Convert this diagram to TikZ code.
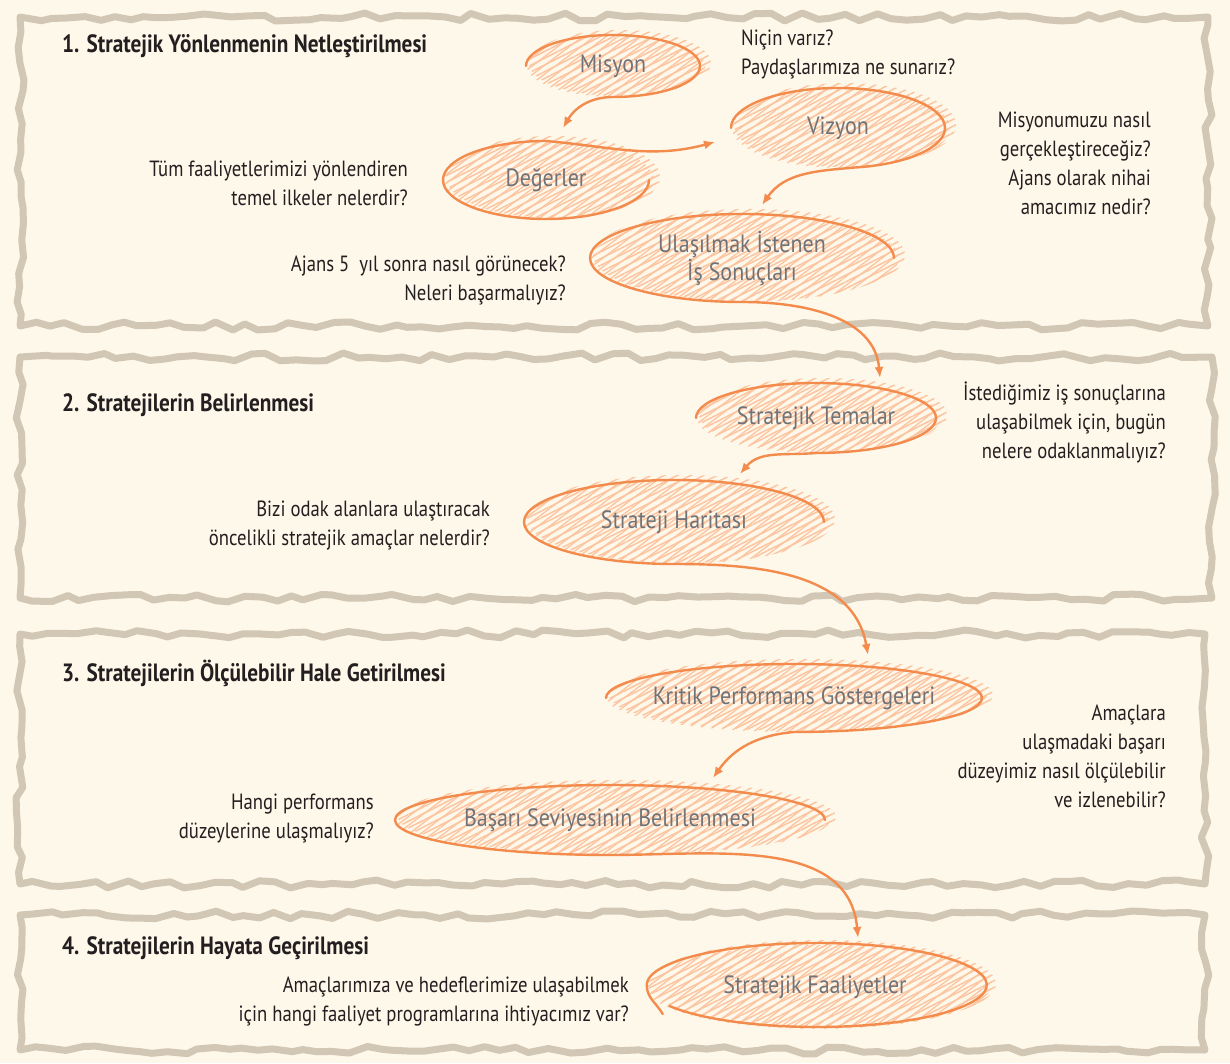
\documentclass[tikz,border=0pt]{standalone}
\usepackage{fontspec}
\setmainfont{PT Sans}
\newfontfamily\bodyf[FakeStretch=0.85]{PT Sans}
\newfontfamily\handf[FakeStretch=0.88]{PT Sans}
\usetikzlibrary{patterns.meta,decorations.pathmorphing,arrows.meta,calc}
\definecolor{bgc}{HTML}{FEF8EA}
\definecolor{brd}{HTML}{D2C6B4}
\definecolor{org}{HTML}{F28B4C}
\definecolor{hatch}{HTML}{FCC4A0}
\definecolor{hand}{HTML}{717378}
\definecolor{ink}{HTML}{231F20}
\newcommand\hblob[6]{%
  \fill[hatchA] ($(#2,#3)+(7,3)$) ellipse[x radius=#4+4,y radius=#5+2];
  \fill[hatchB] ($(#2,#3)+(3,0)$) ellipse[x radius=#4+2,y radius=#5];
  \node[lbl] (#1) at (#2,#3) {#6};}
\begin{document}
\begin{tikzpicture}[x=1pt,y=1pt,
  panel/.style={draw=brd,line width=7pt,line join=round,line cap=round,decorate,
    decoration={random steps,segment length=15pt,amplitude=4pt}},
  hatchA/.style={pattern={Lines[angle=27,distance=6pt,line width=1.5pt]},pattern color=hatch},
  hatchB/.style={pattern={Lines[angle=37,distance=7pt,line width=1.3pt]},pattern color=hatch},
  lbl/.style={inner sep=0pt,text=hand,font=\handf\fontsize{25}{28}\selectfont,align=center},
  oline/.style={draw=org,line width=2.4pt,line cap=round},
  arr/.style={oline,-{Latex[length=11pt,width=9pt]}},
  ttl/.style={anchor=base west,inner sep=0pt,text=ink,font=\bodyf\bfseries\fontsize{25}{28}\selectfont},
  qtxt/.style={inner sep=0pt,text=ink,font=\bodyf\fontsize{22}{29}\selectfont},
  qr/.style={qtxt,anchor=base east,align=right}
]
\useasboundingbox (0,0) rectangle (1230,1063);
\fill[bgc] (0,0) rectangle (1230,1063);
\pgfmathsetseed{7}
% panels
\draw[panel] (20,1046) rectangle (1208,737);
\draw[panel] (20,706) rectangle (1212,465);
\draw[panel] (20,429) rectangle (1205,179);
\draw[panel] (20,148) rectangle (1205,13);
% blobs
\hblob{mis}{613}{997}{87}{31}{Misyon}
\hblob{deg}{546}{883}{103}{39}{Değerler}
\hblob{viz}{838}{935}{107}{40}{Vizyon}
\hblob{ula}{742}{805}{152}{44}{Ulaşılmak İstenen\\İş Sonuçları}
\hblob{tem}{816}{645}{120}{35}{Stratejik Temalar}
\hblob{har}{674}{541}{150}{42}{Strateji Haritası}
\hblob{kpg}{794}{365}{188}{34}{Kritik Performans Göstergeleri}
\hblob{bas}{610}{243}{215}{35}{Başarı Seviyesinin Belirlenmesi}
\hblob{fal}{815}{76}{170}{42}{Stratejik Faaliyetler}
% arrow targets
\coordinate (a1) at (563,935);
\coordinate (a2) at (715,921);
\coordinate (a3) at (762,858);
\coordinate (a4) at (880,685);
\coordinate (a5) at (740,589);
\coordinate (a6) at (868,408);
\coordinate (a7) at (713,285);
\coordinate (a8) at (858,125);
% outlines and connectors
\draw[arr] (mis.center) ++(180:87pt and 31pt) arc[start angle=180,end angle=-90,x radius=87pt,y radius=31pt] to[out=180,in=60] (a1);
\draw[arr] (deg.center) ++(0:103pt and 39pt) arc[start angle=0,end angle=-270,x radius=103pt,y radius=39pt] to[out=-5,in=195] (a2);
\draw[arr] (viz.center) ++(180:107pt and 40pt) arc[start angle=180,end angle=-80,x radius=107pt,y radius=40pt] to[out=185,in=55] (a3);
\draw[arr] (ula.center) ++(0:152pt and 44pt) arc[start angle=0,end angle=270,x radius=152pt,y radius=44pt] to[out=0,in=95] (a4);
\draw[arr] (tem.center) ++(180:120pt and 35pt) arc[start angle=180,end angle=-90,x radius=120pt,y radius=35pt] to[out=185,in=50] (a5);
\draw[arr] (har.center) ++(0:150pt and 42pt) arc[start angle=0,end angle=270,x radius=150pt,y radius=42pt] to[out=0,in=100] (a6);
\draw[arr] (kpg.center) ++(180:188pt and 34pt) arc[start angle=180,end angle=-90,x radius=188pt,y radius=34pt] to[out=185,in=55] (a7);
\draw[arr] (bas.center) ++(0:215pt and 35pt) arc[start angle=0,end angle=270,x radius=215pt,y radius=35pt] to[out=0,in=95] (a8);
\draw[oline] (fal.center) ++(210:168pt and 38pt) arc[start angle=210,end angle=540,x radius=170pt,y radius=42pt] to[out=-90,in=120] ++(16,-29);
% titles
\node[ttl] (t1) at (62,1010) {1. Stratejik Yönlenmenin Netleştirilmesi};
\node[ttl] (t2) at (62,651) {2. Stratejilerin Belirlenmesi};
\node[ttl] (t3) at (62,381) {3. Stratejilerin Ölçülebilir Hale Getirilmesi};
\node[ttl] (t4) at (62,109) {4. Stratejilerin Hayata Geçirilmesi};
% questions (anchor at baseline of last line)
\node[qtxt,anchor=base west,align=left] (q1) at (741,988) {Niçin varız?\\Paydaşlarımıza ne sunarız?};
\node[qr] (q2) at (408,857) {Tüm faaliyetlerimizi yönlendiren\\temel ilkeler nelerdir?};
\node[qr] (q3) at (1151,848) {Misyonumuzu nasıl\\gerçekleştireceğiz?\\Ajans olarak nihai\\amacımız nedir?};
\node[qr] (q4) at (566,762) {Ajans 5\ \ yıl sonra nasıl görünecek?\\Neleri başarmalıyız?};
\node[qr] (q5) at (1166,604) {İstediğimiz iş sonuçlarına\\ulaşabilmek için, bugün\\nelere odaklanmalıyız?};
\node[qr] (q6) at (490,517) {Bizi odak alanlara ulaştıracak\\öncelikli stratejik amaçlar nelerdir?};
\node[qr] (q7) at (1166,256) {Amaçlara\\ulaşmadaki başarı\\düzeyimiz nasıl ölçülebilir\\ve izlenebilir?};
\node[qr] (q8) at (374,225) {Hangi performans\\düzeylerine ulaşmalıyız?};
\node[qr] (q9) at (629,42) {Amaçlarımıza ve hedeflerimize ulaşabilmek\\için hangi faaliyet programlarına ihtiyacımız var?};
\end{tikzpicture}
\end{document}
